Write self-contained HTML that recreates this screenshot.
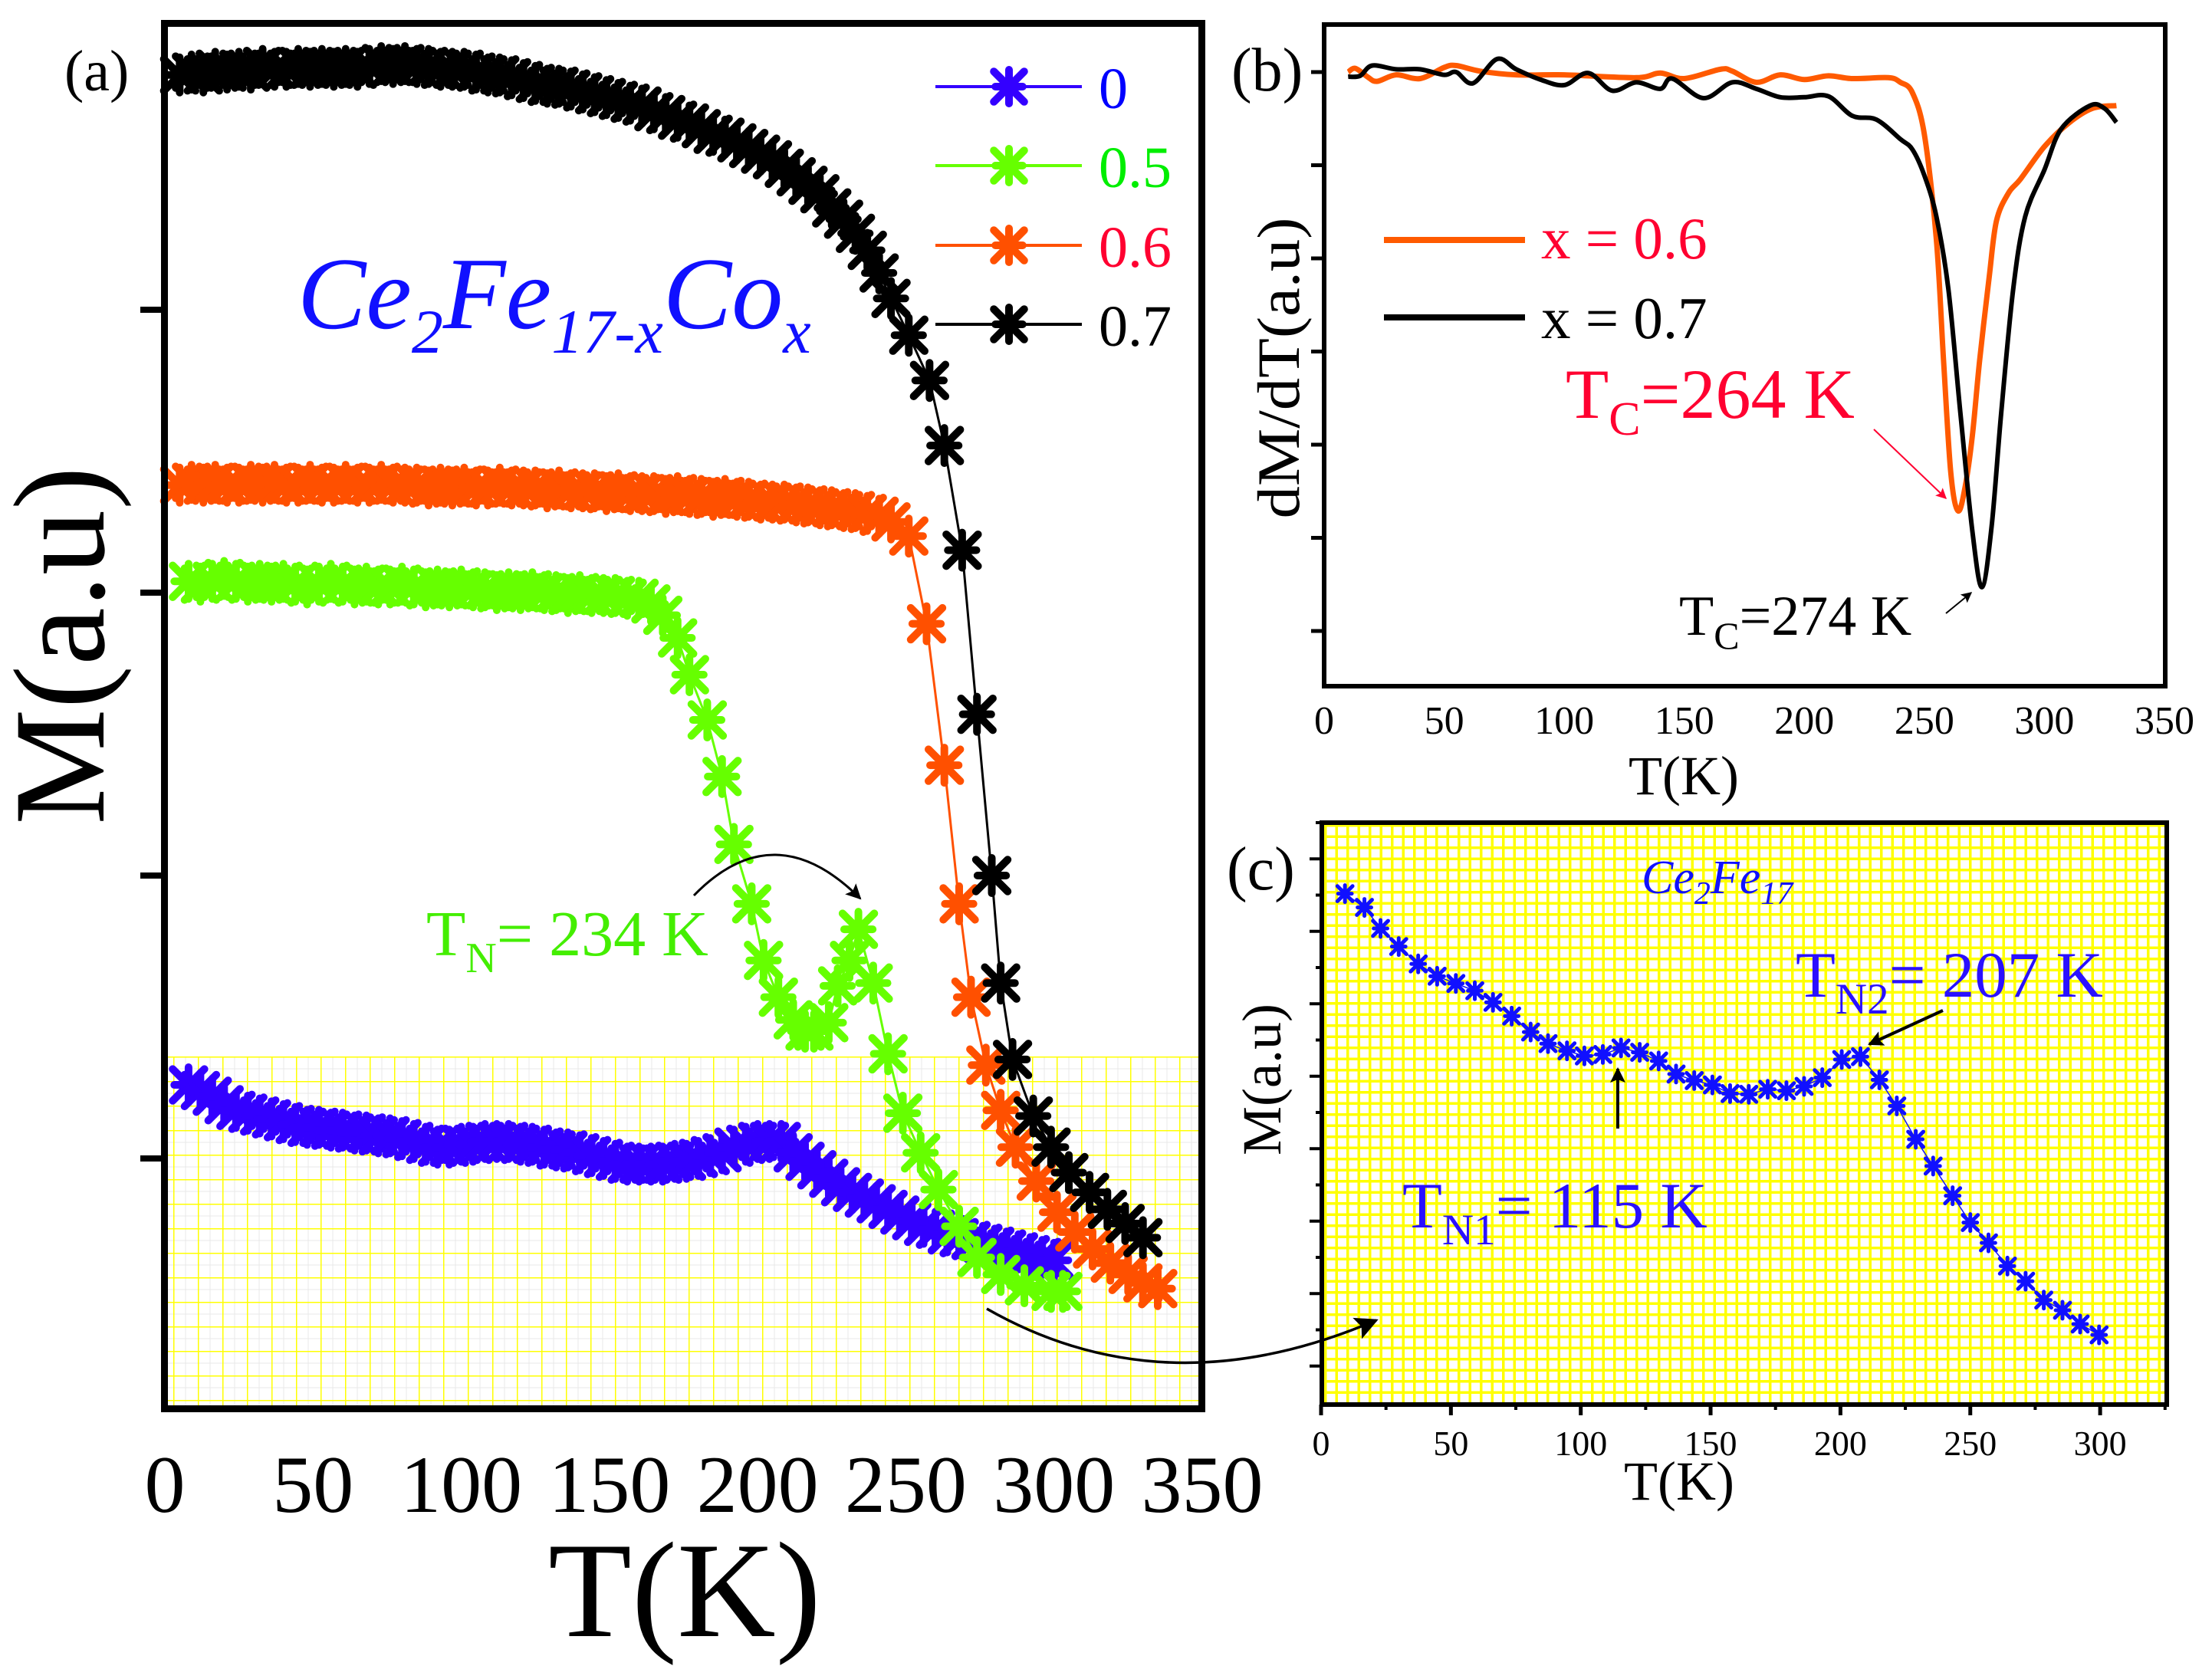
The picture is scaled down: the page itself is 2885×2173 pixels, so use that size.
<!DOCTYPE html>
<html><head><meta charset="utf-8">
<style>
html,body{margin:0;padding:0;background:#fff;}
svg{display:block;font-family:"Liberation Serif","DejaVu Serif",serif;}
</style></head>
<body>
<svg id="fig" width="2885" height="2173" viewBox="0 0 2885 2173" xmlns="http://www.w3.org/2000/svg">
<defs>
<pattern id="gridA" x="2" y="1378" width="32" height="32" patternUnits="userSpaceOnUse">
<rect width="32" height="32" fill="#fff"/>
<line x1="16" y1="0" x2="16" y2="32" stroke="#e8e8e8" stroke-width="1"/>
<line x1="0" y1="16" x2="32" y2="16" stroke="#e8e8e8" stroke-width="1"/>
<line x1="0" y1="0" x2="0" y2="32" stroke="#ffff00" stroke-width="3"/>
<line x1="0" y1="0" x2="32" y2="0" stroke="#ffff00" stroke-width="3"/>
</pattern>
<pattern id="gridC" x="1727" y="1075" width="14.5" height="14.5" patternUnits="userSpaceOnUse">
<rect width="14.5" height="14.5" fill="#fff"/>
<rect x="0" y="0" width="3.5" height="14.5" fill="#ffff00"/>
<rect x="0" y="0" width="14.5" height="3.5" fill="#ffff00"/>
</pattern>
<marker id="ahBig" viewBox="0 0 10 10" refX="9" refY="5" markerWidth="36" markerHeight="30" orient="auto" markerUnits="userSpaceOnUse">
<path d="M0,0 L10,5 L0,10 L2,5 Z" fill="#000"/></marker>
<marker id="ahMid" viewBox="0 0 10 10" refX="9" refY="5" markerWidth="24" markerHeight="20" orient="auto" markerUnits="userSpaceOnUse">
<path d="M0,0 L10,5 L0,10 L2,5 Z" fill="#000"/></marker>
<marker id="ahRed" viewBox="0 0 10 10" refX="9" refY="5" markerWidth="16" markerHeight="14" orient="auto" markerUnits="userSpaceOnUse">
<path d="M0,0 L10,5 L0,10 L2,5 Z" fill="#ff0030"/></marker>
<marker id="ahSmallBlack" viewBox="0 0 10 10" refX="9" refY="5" markerWidth="16" markerHeight="14" orient="auto" markerUnits="userSpaceOnUse">
<path d="M0,0 L10,5 L0,10 L2,5 Z" fill="#000"/></marker>
</defs>

<!-- Panel a -->
<g>
<rect x="219" y="1378" width="1345" height="460" fill="url(#gridA)"/>
<g id="aSeries"></g>
<rect x="214.5" y="30.5" width="1353" height="1807" fill="none" stroke="#000" stroke-width="9"/>
<g id="aTicks"></g>
<text x="84" y="118" font-size="76">(a)</text>
<text x="388" y="428" font-size="134" font-style="italic" fill="#1010ff">Ce<tspan font-size="82" dy="32">2</tspan><tspan dy="-32">Fe</tspan><tspan font-size="82" dy="32">17-x</tspan><tspan dy="-32">Co</tspan><tspan font-size="82" dy="32">x</tspan></text>
<text x="556" y="1246" font-size="84" fill="#44ee00">T<tspan font-size="56" dy="22">N</tspan><tspan dy="-22">= 234 K</tspan></text>
<path d="M905,1168 Q1010,1060 1122,1172" fill="none" stroke="#000" stroke-width="3" marker-end="url(#ahMid)"/>
<text x="893" y="2134" font-size="178" text-anchor="middle">T(K)</text>
<text transform="translate(135,842) rotate(-90)" font-size="170" text-anchor="middle">M(a.u)</text>
<g id="aLegend"></g>
</g>

<!-- Panel b -->
<g>
<g id="bSeries"></g>
<rect x="1727" y="32" width="1097" height="863" fill="none" stroke="#000" stroke-width="6"/>
<g id="bTicks"></g>
<text x="1606" y="118" font-size="80">(b)</text>
<text transform="translate(1694,480) rotate(-90)" font-size="78" text-anchor="middle" textLength="393" lengthAdjust="spacingAndGlyphs">dM/dT(a.u)</text>
<text x="2196" y="1036" font-size="72" text-anchor="middle">T(K)</text>
<line x1="1805" y1="313" x2="1989" y2="313" stroke="#ff5a00" stroke-width="8"/>
<text x="2010" y="337" font-size="77" fill="#ff0030">x = 0.6</text>
<line x1="1805" y1="414" x2="1989" y2="414" stroke="#000" stroke-width="8"/>
<text x="2010" y="441" font-size="77">x = 0.7</text>
<text x="2042" y="545" font-size="92" fill="#ff0030">T<tspan font-size="62" dy="22">C</tspan><tspan dy="-22">=264 K</tspan></text>
<line x1="2444" y1="560" x2="2538" y2="650" stroke="#ff0030" stroke-width="2" marker-end="url(#ahRed)"/>
<text x="2190" y="828" font-size="74">T<tspan font-size="50" dy="18">C</tspan><tspan dy="-18">=274 K</tspan></text>
<line x1="2538" y1="800" x2="2571" y2="773" stroke="#000" stroke-width="2" marker-end="url(#ahSmallBlack)"/>
</g>

<!-- Panel c -->
<g>
<rect x="1727" y="1075" width="1097" height="755" fill="url(#gridC)"/>
<g id="cSeries"></g>
<rect x="1724" y="1073" width="1102" height="759" fill="none" stroke="#000" stroke-width="6"/>
<g id="cTicks"></g>
<text x="1600" y="1160" font-size="80">(c)</text>
<text transform="translate(1670,1408) rotate(-90)" font-size="72" text-anchor="middle">M(a.u)</text>
<text x="2190" y="1956" font-size="72" text-anchor="middle">T(K)</text>
<text x="2141" y="1165" font-size="62" font-style="italic" fill="#1010ff">Ce<tspan font-size="42" dy="14">2</tspan><tspan dy="-14">Fe</tspan><tspan font-size="42" dy="14">17</tspan></text>
<text x="2342" y="1300" font-size="85" fill="#2a10ff">T<tspan font-size="57" dy="22">N2</tspan><tspan dy="-22">= 207 K</tspan></text>
<line x1="2534" y1="1318" x2="2438" y2="1362" stroke="#000" stroke-width="4" marker-end="url(#ahMid)"/>
<text x="1829" y="1601" font-size="85" fill="#2a10ff">T<tspan font-size="57" dy="22">N1</tspan><tspan dy="-22">= 115 K</tspan></text>
<line x1="2110" y1="1472" x2="2110" y2="1394" stroke="#000" stroke-width="4" marker-end="url(#ahMid)"/>
</g>
<path d="M1287,1707 Q1520,1840 1795,1722" fill="none" stroke="#000" stroke-width="3.5" marker-end="url(#ahBig)"/>
</svg>

<script>
// ---------- Panel (a) data ----------
const blackT = [5,9,13,17,21,25,29,33,37,41,45,49,53,57,61,65,69,73,77,81,85,89,93,97,101,105,109,113,117,121,125,129,133,137,141,145,149,153,157,161,165,169,173,177,181,185,189,193,197,201,205,209,213,217,221,225,229,233,237,241,245,251,258,263,269,274,279,282,286,293,299,305,312,318,324,330];
const blackM = [4.83,4.84,4.83,4.85,4.84,4.85,4.84,4.86,4.85,4.85,4.86,4.85,4.86,4.85,4.86,4.85,4.86,4.87,4.86,4.87,4.86,4.86,4.85,4.85,4.85,4.84,4.83,4.83,4.82,4.81,4.80,4.79,4.79,4.78,4.77,4.76,4.75,4.74,4.73,4.72,4.70,4.69,4.67,4.66,4.64,4.62,4.61,4.59,4.57,4.55,4.53,4.50,4.47,4.44,4.41,4.36,4.32,4.27,4.21,4.13,4.04,3.91,3.75,3.52,3.15,2.57,2.00,1.62,1.35,1.15,1.04,0.95,0.88,0.82,0.77,0.72];
const orangeT = [5,9,13,17,21,25,29,33,37,41,45,49,53,57,61,65,69,73,77,81,85,89,93,97,101,105,109,113,117,121,125,129,133,137,141,145,149,153,157,161,165,169,173,177,181,185,189,193,197,201,205,209,213,217,221,225,229,233,237,241,245,251,257,263,268,272,277,282,287,294,301,307,313,319,325,330,335];
const orangeM = [3.38,3.39,3.38,3.39,3.38,3.38,3.39,3.38,3.39,3.38,3.38,3.39,3.38,3.38,3.39,3.38,3.38,3.39,3.38,3.38,3.38,3.37,3.38,3.37,3.38,3.37,3.37,3.38,3.37,3.37,3.37,3.36,3.37,3.36,3.36,3.36,3.35,3.36,3.35,3.35,3.35,3.34,3.35,3.34,3.34,3.33,3.34,3.33,3.33,3.32,3.32,3.32,3.31,3.31,3.30,3.30,3.29,3.29,3.28,3.27,3.25,3.20,2.89,2.39,1.90,1.57,1.33,1.17,1.04,0.92,0.81,0.74,0.68,0.63,0.59,0.56,0.54];
const greenT = [8,12,16,20,24,28,32,36,40,44,48,52,56,60,64,68,72,76,80,84,88,92,96,100,104,108,112,116,120,124,128,132,136,140,144,148,152,156,160,164,168,173,177,183,188,192,198,202,207,212,216,219,224,227,231,234,239,244,249,255,261,268,274,282,290,299,303];
const greenM = [3.04,3.03,3.04,3.05,3.04,3.03,3.04,3.03,3.04,3.03,3.02,3.03,3.04,3.03,3.02,3.03,3.02,3.02,3.03,3.02,3.01,3.02,3.01,3.02,3.01,3.01,3.00,3.01,3.00,3.01,3.00,3.00,2.99,3.00,2.99,2.99,2.99,2.98,2.98,2.96,2.92,2.84,2.71,2.55,2.35,2.11,1.90,1.70,1.57,1.49,1.45,1.45,1.48,1.61,1.70,1.81,1.62,1.37,1.16,1.02,0.89,0.76,0.65,0.59,0.55,0.53,0.53];
const blueT = [8,12,16,20,24,28,32,36,40,44,48,52,56,60,64,68,72,76,80,84,88,92,96,100,104,108,112,116,120,124,128,132,136,140,144,148,152,156,160,164,168,172,176,180,184,188,192,196,200,204,208,212,216,220,224,228,232,236,240,244,248,252,256,260,264,268,272,276,280,284,288,292,296,300];
const blueM = [1.26,1.24,1.22,1.19,1.17,1.16,1.15,1.14,1.13,1.12,1.11,1.11,1.10,1.10,1.09,1.09,1.08,1.08,1.07,1.06,1.05,1.04,1.04,1.05,1.05,1.06,1.06,1.06,1.05,1.05,1.04,1.03,1.03,1.02,1.01,1.00,0.99,0.98,0.98,0.98,0.98,0.99,0.99,1.00,1.01,1.02,1.04,1.05,1.06,1.06,1.06,1.02,0.99,0.96,0.93,0.90,0.88,0.86,0.84,0.82,0.80,0.78,0.76,0.75,0.73,0.72,0.71,0.70,0.69,0.68,0.67,0.66,0.65,0.64];
const legendLabels = ["0","0.5","0.6","0.7"];
const aTickVals = [1,2,3,4];
const aXTicks = [0,50,100,150,200,250,300,350];

// ---------- Panel (b) data ----------
const bOrangeT = [10,13,18,22,30,40,50,55,65,80,100,130,140,150,165,170,180,190,200,210,220,235,240,245,250,255,258,261,264,267,270,273,277,280,285,290,300,310,320,330];
const bOrangeV = [0,0.04,-0.05,-0.10,-0.03,-0.07,0.05,0.07,0.01,-0.03,-0.03,-0.06,-0.01,-0.07,0.03,0.01,-0.11,-0.03,-0.08,-0.04,-0.07,-0.06,-0.11,-0.22,-0.67,-1.8,-3.1,-4.3,-4.71,-4.45,-3.9,-3.1,-2.2,-1.6,-1.3,-1.15,-0.8,-0.55,-0.39,-0.36];
const bBlackT = [10,15,20,30,40,50,55,62,72,80,90,100,110,120,130,140,145,158,170,180,190,200,210,220,230,240,245,250,255,260,265,270,274,278,282,287,292,300,307,319,325,330];
const bBlackV = [-0.05,-0.04,0.07,0.03,0.03,-0.03,0.0,-0.12,0.14,0.03,-0.08,-0.14,-0.01,-0.2,-0.11,-0.18,-0.07,-0.28,-0.11,-0.18,-0.27,-0.27,-0.26,-0.47,-0.51,-0.72,-0.83,-1.11,-1.55,-2.33,-3.66,-4.93,-5.53,-4.88,-3.66,-2.33,-1.55,-1.05,-0.61,-0.36,-0.39,-0.54];
const bXTicks = [0,50,100,150,200,250,300,350];
const bYTicks = [0,-1,-2,-3,-4,-5,-6];

// ---------- Panel (c) data ----------
const cT = [9.2,16.7,22.9,29.9,37.4,44.7,51.9,59.2,66.2,73.4,80.7,87.4,94.7,101.4,108.5,115.5,122.7,130,136.7,143.7,150.7,157.5,164.7,172,179.2,186,193,200.5,207.7,215,221.7,229,235.7,243.2,250,257,264.3,271.3,278.3,285.5,292.3,299.6];
const cM = [7.02,6.83,6.54,6.29,6.05,5.88,5.78,5.68,5.52,5.33,5.11,4.95,4.85,4.78,4.80,4.89,4.83,4.71,4.53,4.44,4.38,4.26,4.25,4.32,4.30,4.36,4.48,4.73,4.77,4.45,4.09,3.63,3.26,2.85,2.48,2.20,1.88,1.67,1.41,1.27,1.08,0.93];
const cXTicks = [0,50,100,150,200,250,300];
const cYTicks = [0.5,1.5,2.5,3.5,4.5,5.5,6.5,7.5];

// ---------- scales ----------
const xA = t => 215 + t*(1568-215)/350;
const yA = v => 35 + (5 - v)*369;
const xB = t => 1727 + t*(2823-1727)/350;
const yB = v => 94 - v*121.5;
const xC = t => 1723 + t*3.387;
const yC = v => 1829 - v*94.5;

const NS = "http://www.w3.org/2000/svg";
function mk(tag, parent){ const e=document.createElementNS(NS,tag); parent.appendChild(e); return e; }
function star(parent, cx, cy, r, sw, color){
  const g = mk('path', parent);
  const d = r*0.9;
  g.setAttribute('d', `M${cx},${cy-r}L${cx},${cy+r}M${cx-d},${cy-d}L${cx+d},${cy+d}M${cx-d},${cy+d}L${cx+d},${cy-d}M${cx-d*0.9},${cy}L${cx+d*0.9},${cy}`);
  g.setAttribute('stroke', color); g.setAttribute('stroke-width', sw);
  g.setAttribute('stroke-linecap','round'); g.setAttribute('fill','none');
  return g;
}
function smoothPath(pts){
  let d = `M${pts[0][0]},${pts[0][1]}`;
  for(let i=0;i<pts.length-1;i++){
    const p0=pts[Math.max(0,i-1)], p1=pts[i], p2=pts[i+1], p3=pts[Math.min(pts.length-1,i+2)];
    const c1=[p1[0]+(p2[0]-p0[0])/6, p1[1]+(p2[1]-p0[1])/6];
    const c2=[p2[0]-(p3[0]-p1[0])/6, p2[1]-(p3[1]-p1[1])/6];
    d += `C${c1[0]},${c1[1]} ${c2[0]},${c2[1]} ${p2[0]},${p2[1]}`;
  }
  return d;
}

// ---------- draw panel a ----------
const aS = document.getElementById('aSeries');
const aSeries = [
  {name:'series-x0', T:blueT, M:blueM, color:'#3300ff'},
  {name:'series-x05', T:greenT, M:greenM, color:'#66ff00'},
  {name:'series-x06', T:orangeT, M:orangeM, color:'#ff5000'},
  {name:'series-x07', T:blackT, M:blackM, color:'#000000'}
];
aSeries.forEach(s=>{
  const g = mk('g', aS);
  
  
  const n = Math.min(s.T.length, s.M.length);
  const pts = [];
  for(let i=0;i<n;i++) pts.push([xA(s.T[i]), yA(s.M[i])]);
  const pl = mk('polyline', g);
  
  
  pl.setAttribute('points', pts.map(p=>p.join(',')).join(' '));
  pl.setAttribute('fill','none'); pl.setAttribute('stroke', s.color); pl.setAttribute('stroke-width', 3);
  pts.forEach(p=>{
    const m = star(g, p[0], p[1], 23, 10, s.color);
    
    
  });
});
const aT = document.getElementById('aTicks');
aTickVals.forEach(v=>{
  const l = mk('line', aT);
  
  
  l.setAttribute('x1', 183); l.setAttribute('x2', 215); l.setAttribute('y1', yA(v)); l.setAttribute('y2', yA(v));
  l.setAttribute('stroke','#000'); l.setAttribute('stroke-width', 8);
});
aXTicks.forEach(t=>{
  const tx = mk('text', aT);
  
  
  tx.setAttribute('x', xA(t)); tx.setAttribute('y', 1972);
  tx.setAttribute('font-size', 106); tx.setAttribute('text-anchor','middle');
  tx.textContent = t;
});
const aL = document.getElementById('aLegend');
const legendY = [113,216,320,423];
aSeries.forEach((s,i)=>{
  const g = mk('g', aL);
  
  
  const l = mk('line', g);
  l.setAttribute('x1',1220); l.setAttribute('x2',1411); l.setAttribute('y1',legendY[i]); l.setAttribute('y2',legendY[i]);
  l.setAttribute('stroke', s.color); l.setAttribute('stroke-width', 4);
  star(g, 1316, legendY[i], 22, 10, s.color);
  const tx = mk('text', g);
  tx.setAttribute('x', 1433); tx.setAttribute('y', legendY[i]+28);
  tx.setAttribute('font-size', 76);
  tx.setAttribute('fill', i==0?'#0000ff':(i==1?'#00ee00':(i==2?'#ff0030':'#000')));
  tx.textContent = legendLabels[i];
});

// ---------- draw panel b ----------
const bS = document.getElementById('bSeries');
[{name:'curve-x06', T:bOrangeT, V:bOrangeV, color:'#ff5a00', w:7},
 {name:'curve-x07', T:bBlackT, V:bBlackV, color:'#000', w:6}].forEach(s=>{
  const n = Math.min(s.T.length, s.V.length);
  const pts=[]; for(let i=0;i<n;i++) pts.push([xB(s.T[i]), yB(s.V[i])]);
  const p = mk('path', bS);
  
  
  p.setAttribute('d', smoothPath(pts));
  p.setAttribute('fill','none'); p.setAttribute('stroke', s.color); p.setAttribute('stroke-width', s.w);
  p.setAttribute('stroke-linejoin','round');
});
const bT = document.getElementById('bTicks');
bYTicks.forEach(v=>{
  const l = mk('line', bT);
  
  
  l.setAttribute('x1', 1710); l.setAttribute('x2', 1727); l.setAttribute('y1', yB(v)); l.setAttribute('y2', yB(v));
  l.setAttribute('stroke','#000'); l.setAttribute('stroke-width', 5);
});
bXTicks.forEach(t=>{
  const tx = mk('text', bT);
  
  
  tx.setAttribute('x', xB(t)); tx.setAttribute('y', 957);
  tx.setAttribute('font-size', 52); tx.setAttribute('text-anchor','middle');
  tx.textContent = t;
});

// ---------- draw panel c ----------
const cS = document.getElementById('cSeries');
const cg = mk('g', cS);


const cn = Math.min(cT.length, cM.length);
const cpts=[]; for(let i=0;i<cn;i++) cpts.push([xC(cT[i]), yC(cM[i])]);
const cl = mk('polyline', cg);


cl.setAttribute('points', cpts.map(p=>p.join(',')).join(' '));
cl.setAttribute('fill','none'); cl.setAttribute('stroke','#1010ff'); cl.setAttribute('stroke-width',1.5);
cpts.forEach(p=>{
  const m = star(cg, p[0], p[1], 11, 5, '#1010ff');
  
  
});
const cTk = document.getElementById('cTicks');
cYTicks.forEach(v=>{
  const l = mk('line', cTk);
  
  
  l.setAttribute('x1', 1708); l.setAttribute('x2', 1724); l.setAttribute('y1', yC(v)); l.setAttribute('y2', yC(v));
  l.setAttribute('stroke','#000'); l.setAttribute('stroke-width', 4);
  const m = mk('line', cTk);
  
  
  m.setAttribute('x1', 1716); m.setAttribute('x2', 1724); m.setAttribute('y1', yC(v+0.5)); m.setAttribute('y2', yC(v+0.5));
  m.setAttribute('stroke','#000'); m.setAttribute('stroke-width', 4);
});
cXTicks.forEach(t=>{
  const l = mk('line', cTk);
  
  
  l.setAttribute('x1', xC(t)); l.setAttribute('x2', xC(t)); l.setAttribute('y1', 1832); l.setAttribute('y2', 1846);
  l.setAttribute('stroke','#000'); l.setAttribute('stroke-width', 5);
  const m = mk('line', cTk);
  
  
  m.setAttribute('x1', xC(t+25)); m.setAttribute('x2', xC(t+25)); m.setAttribute('y1', 1832); m.setAttribute('y2', 1839);
  m.setAttribute('stroke','#000'); m.setAttribute('stroke-width', 4);
  const tx = mk('text', cTk);
  
  
  tx.setAttribute('x', xC(t)); tx.setAttribute('y', 1898);
  tx.setAttribute('font-size', 46); tx.setAttribute('text-anchor','middle');
  tx.textContent = t;
});
</script>
</body></html>
